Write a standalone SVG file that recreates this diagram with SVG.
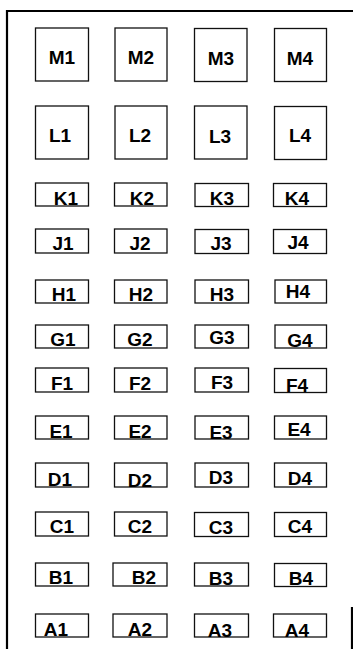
<svg xmlns="http://www.w3.org/2000/svg" width="353" height="649" viewBox="0 0 353 649">
<style>
.b{fill:none;stroke:#111;stroke-width:1.3}
.t{font-family:"Liberation Sans",Arial,sans-serif;font-weight:bold;font-size:19px;fill:#000;text-anchor:middle}
.f{fill:none;stroke:#000;stroke-width:2.2}
</style>
<rect width="353" height="649" fill="#fff"/>
<g id="frame">
<path class="f" d="M7,649 V11 H353"/>
<path class="f" d="M352,607 V649"/>
</g>
<g id="M1"><rect class="b" x="35.5" y="28" width="53" height="53"/><text class="t" x="62" y="64">M1</text></g>
<g id="M2"><rect class="b" x="115" y="28" width="52" height="53"/><text class="t" x="141" y="64">M2</text></g>
<g id="M3"><rect class="b" x="194.5" y="28.5" width="52.5" height="53"/><text class="t" x="221" y="65">M3</text></g>
<g id="M4"><rect class="b" x="274.5" y="28.5" width="52" height="53"/><text class="t" x="300" y="65">M4</text></g>
<g id="L1"><rect class="b" x="35.5" y="106" width="53" height="53"/><text class="t" x="60" y="142">L1</text></g>
<g id="L2"><rect class="b" x="115" y="106" width="52" height="53"/><text class="t" x="140" y="142">L2</text></g>
<g id="L3"><rect class="b" x="194.5" y="106" width="52.5" height="53"/><text class="t" x="220" y="143">L3</text></g>
<g id="L4"><rect class="b" x="274.5" y="106.5" width="52" height="53"/><text class="t" x="300" y="142">L4</text></g>
<g id="K1"><rect class="b" x="35.5" y="183" width="53" height="23"/><text class="t" x="66" y="205">K1</text></g>
<g id="K2"><rect class="b" x="114.5" y="183" width="52.5" height="23"/><text class="t" x="142" y="205">K2</text></g>
<g id="K3"><rect class="b" x="195" y="183.5" width="53.5" height="23"/><text class="t" x="222" y="205">K3</text></g>
<g id="K4"><rect class="b" x="273.5" y="183.5" width="53" height="23"/><text class="t" x="297" y="205">K4</text></g>
<g id="J1"><rect class="b" x="35.5" y="229" width="53" height="24"/><text class="t" x="63" y="250">J1</text></g>
<g id="J2"><rect class="b" x="114.5" y="229" width="52.5" height="24"/><text class="t" x="140" y="250">J2</text></g>
<g id="J3"><rect class="b" x="195" y="229.5" width="53.5" height="24"/><text class="t" x="221" y="250">J3</text></g>
<g id="J4"><rect class="b" x="273.5" y="229.5" width="53" height="24"/><text class="t" x="298" y="249">J4</text></g>
<g id="H1"><rect class="b" x="35.5" y="280" width="53" height="23"/><text class="t" x="64" y="301">H1</text></g>
<g id="H2"><rect class="b" x="114.5" y="280" width="52.5" height="23"/><text class="t" x="141" y="301">H2</text></g>
<g id="H3"><rect class="b" x="195" y="280" width="53.5" height="23"/><text class="t" x="222" y="301">H3</text></g>
<g id="H4"><rect class="b" x="275" y="280" width="51.5" height="23"/><text class="t" x="298" y="298">H4</text></g>
<g id="G1"><rect class="b" x="35.5" y="325" width="53" height="23"/><text class="t" x="63" y="346">G1</text></g>
<g id="G2"><rect class="b" x="114.5" y="325" width="52.5" height="23"/><text class="t" x="140" y="346">G2</text></g>
<g id="G3"><rect class="b" x="195" y="325" width="53.5" height="23"/><text class="t" x="222" y="344">G3</text></g>
<g id="G4"><rect class="b" x="275" y="325" width="51.5" height="23"/><text class="t" x="300" y="347">G4</text></g>
<g id="F1"><rect class="b" x="35.5" y="368" width="53" height="24"/><text class="t" x="62" y="390">F1</text></g>
<g id="F2"><rect class="b" x="114.5" y="368" width="52.5" height="24"/><text class="t" x="140" y="390">F2</text></g>
<g id="F3"><rect class="b" x="195" y="368" width="53.5" height="24"/><text class="t" x="222" y="389">F3</text></g>
<g id="F4"><rect class="b" x="274.5" y="368.5" width="52" height="24"/><text class="t" x="297" y="392">F4</text></g>
<g id="E1"><rect class="b" x="35.5" y="416" width="53" height="23"/><text class="t" x="61" y="438">E1</text></g>
<g id="E2"><rect class="b" x="114.5" y="416" width="52.5" height="23"/><text class="t" x="140" y="438">E2</text></g>
<g id="E3"><rect class="b" x="195" y="416" width="53.5" height="23"/><text class="t" x="221" y="439">E3</text></g>
<g id="E4"><rect class="b" x="274.5" y="416" width="52" height="23"/><text class="t" x="299" y="436">E4</text></g>
<g id="D1"><rect class="b" x="35.5" y="463" width="53" height="24"/><text class="t" x="60" y="486">D1</text></g>
<g id="D2"><rect class="b" x="114.5" y="463" width="52.5" height="24"/><text class="t" x="140" y="487">D2</text></g>
<g id="D3"><rect class="b" x="195" y="463" width="53.5" height="24"/><text class="t" x="221" y="484">D3</text></g>
<g id="D4"><rect class="b" x="274.5" y="463" width="52" height="24"/><text class="t" x="300" y="485">D4</text></g>
<g id="C1"><rect class="b" x="35.5" y="512" width="53" height="24"/><text class="t" x="62" y="533">C1</text></g>
<g id="C2"><rect class="b" x="114.5" y="512" width="52.5" height="24"/><text class="t" x="140" y="533">C2</text></g>
<g id="C3"><rect class="b" x="194.5" y="512.5" width="54" height="24"/><text class="t" x="221" y="534">C3</text></g>
<g id="C4"><rect class="b" x="274.5" y="512.5" width="52" height="24"/><text class="t" x="300" y="533">C4</text></g>
<g id="B1"><rect class="b" x="35.5" y="563" width="53" height="23"/><text class="t" x="61" y="584">B1</text></g>
<g id="B2"><rect class="b" x="113" y="563" width="54" height="23"/><text class="t" x="144" y="584">B2</text></g>
<g id="B3"><rect class="b" x="194.5" y="563" width="54" height="23"/><text class="t" x="221" y="585">B3</text></g>
<g id="B4"><rect class="b" x="274.5" y="563.5" width="52" height="23"/><text class="t" x="301" y="585">B4</text></g>
<g id="A1"><rect class="b" x="35.5" y="614" width="53" height="23"/><text class="t" x="56" y="636">A1</text></g>
<g id="A2"><rect class="b" x="113" y="614" width="54" height="23"/><text class="t" x="140" y="636">A2</text></g>
<g id="A3"><rect class="b" x="194.5" y="614" width="54" height="23"/><text class="t" x="220" y="637">A3</text></g>
<g id="A4"><rect class="b" x="273.5" y="614" width="53" height="23"/><text class="t" x="297" y="637">A4</text></g>
</svg>
